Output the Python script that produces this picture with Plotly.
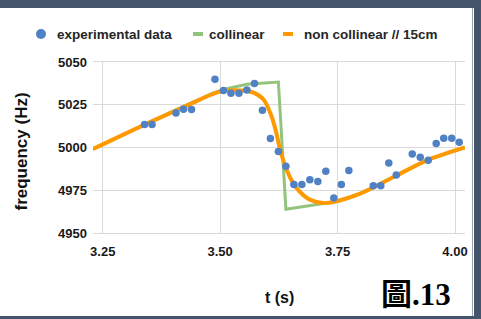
import plotly.graph_objects as go

# ---- data ----
exp_t = [3.339, 3.355, 3.406, 3.422, 3.439, 3.489, 3.507, 3.523, 3.540, 3.557,
         3.573, 3.590, 3.607, 3.624, 3.640, 3.657, 3.674, 3.691, 3.708, 3.725,
         3.742, 3.758, 3.774, 3.826, 3.842, 3.859, 3.875, 3.909, 3.926, 3.943,
         3.960, 3.976, 3.993, 4.009]
exp_f = [5013.4, 5013.4, 5020.2, 5022.3, 5022.2, 5039.9, 5033.3, 5031.7, 5031.7, 5033.6,
         5037.4, 5021.8, 5005.3, 4997.7, 4989.0, 4978.3, 4978.3, 4981.2, 4980.1, 4986.1,
         4970.5, 4978.3, 4986.5, 4977.7, 4977.7, 4990.9, 4983.9, 4996.2, 4994.3, 4992.5,
         5002.3, 5005.4, 5005.4, 5003.0]

col_t = [3.229, 3.344, 3.415, 3.486, 3.507, 3.557, 3.590, 3.624, 3.640, 3.691,
         3.741, 3.798, 3.869, 3.940, 4.021]
col_f = [4999.1, 5014.2, 5023.2, 5032.0, 5033.9, 5037.0, 5037.8, 5038.3, 4963.9, 4965.8,
         4968.1, 4973.0, 4982.7, 4992.5, 5000.0]

non_t = [3.229, 3.344, 3.415, 3.486, 3.507, 3.530, 3.557, 3.571, 3.592, 3.610,
         3.620, 3.628, 3.642, 3.656, 3.670, 3.691, 3.720, 3.741, 3.798, 3.869,
         3.940, 4.021]
non_f = [4999.1, 5014.0, 5022.7, 5031.5, 5033.0, 5033.5, 5033.0, 5032.1, 5028.2, 5017.8,
         5008.1, 4998.4, 4986.7, 4978.9, 4974.0, 4969.5, 4967.5, 4968.1, 4973.0, 4982.7,
         4992.5, 5000.0]

x_ticks = [3.25, 3.50, 3.75, 4.00]
x_ticktext = ["3.25", "3.50", "3.75", "4.00"]
y_ticks = [4950, 4975, 5000, 5025, 5050]

series_names = ["experimental data", "collinear", "non collinear // 15cm"]

BLUE = "#4f81c4"
GREEN = "#93c47d"
ORANGE = "#ff9900"
FRAME = "#44546a"
TXT = "#262626"
FONT = "Liberation Sans, Arial, sans-serif"

W, H = 481, 319
ML, MR, MT, MB = 93, 16, 62, 86
PW, PH = W - ML - MR, H - MT - MB


def px(X):
    return (X - ML) / PW


def py(Y):
    return (H - MB - Y) / PH


fig = go.Figure()
fig.add_trace(go.Scatter(x=col_t, y=col_f, mode="lines", name=series_names[1],
                         line=dict(color=GREEN, width=3), showlegend=False))
fig.add_trace(go.Scatter(x=non_t, y=non_f, mode="lines", name=series_names[2],
                         line=dict(color=ORANGE, width=4, shape="spline", smoothing=0.8),
                         showlegend=False))
fig.add_trace(go.Scatter(x=exp_t, y=exp_f, mode="markers", name=series_names[0],
                         marker=dict(color=BLUE, size=7.5), showlegend=False))

shapes = []
# frame
shapes.append(dict(type="rect", xref="paper", yref="paper", x0=px(-5), x1=px(W + 5),
                   y0=py(8), y1=py(-5), fillcolor=FRAME, line_width=0, layer="above"))
shapes.append(dict(type="rect", xref="paper", yref="paper", x0=px(474), x1=px(W + 5),
                   y0=py(H + 5), y1=py(-5), fillcolor=FRAME, line_width=0, layer="above"))
shapes.append(dict(type="rect", xref="paper", yref="paper", x0=px(-5), x1=px(W + 5),
                   y0=py(H + 5), y1=py(316), fillcolor=FRAME, line_width=0, layer="above"))
shapes.append(dict(type="line", xref="paper", yref="paper", x0=px(472.5), x1=px(472.5),
                   y0=py(316), y1=py(8), line=dict(color="#9aa3ad", width=1), layer="above"))
# legend glyphs
LY = 34
shapes.append(dict(type="circle", xref="paper", yref="paper", x0=px(36), x1=px(46),
                   y0=py(LY + 5), y1=py(LY - 5), fillcolor=BLUE, line_width=0))
shapes.append(dict(type="rect", xref="paper", yref="paper", x0=px(193), x1=px(203),
                   y0=py(LY + 2), y1=py(LY - 2), fillcolor=GREEN, line_width=0))
shapes.append(dict(type="rect", xref="paper", yref="paper", x0=px(283), x1=px(293),
                   y0=py(LY + 2), y1=py(LY - 2), fillcolor=ORANGE, line_width=0))

ann = []
for name, X in zip(series_names, [55, 207, 302]):
    ann.append(dict(text="<b>%s</b>" % name, xref="paper", yref="paper", x=px(X), y=py(LY),
                    xanchor="left", yanchor="middle", showarrow=False,
                    font=dict(family=FONT, size=13.5, color=TXT)))
ann.append(dict(text="<b>t (s)</b>", xref="paper", yref="paper", x=0.5, y=py(297),
                xanchor="center", yanchor="middle", showarrow=False,
                font=dict(family=FONT, size=16, color="#111111")))
ann.append(dict(text="<b>frequency (Hz)</b>", xref="paper", yref="paper", x=px(20.5),
                y=py(152), xanchor="center", yanchor="middle", showarrow=False,
                textangle=-90, font=dict(family=FONT, size=17, color="#111111")))
ann.append(dict(text="<b>圖.13</b>", xref="paper", yref="paper", x=px(416), y=py(294),
                xanchor="center", yanchor="middle", showarrow=False,
                font=dict(family="Liberation Serif, Noto Sans CJK TC, serif", size=31,
                          color="#000000")))

fig.update_layout(
    width=W, height=H,
    margin=dict(l=ML, r=MR, t=MT, b=MB),
    paper_bgcolor="white", plot_bgcolor="white",
    showlegend=False,
    shapes=shapes, annotations=ann,
    xaxis=dict(range=[3.2293, 4.0213], tickvals=x_ticks, ticktext=x_ticktext,
               showgrid=True, gridcolor="#d9d9d9", gridwidth=1, zeroline=False,
               showline=True, mirror=True, linecolor="#d9d9d9", linewidth=1,
               ticks="", ticklabelstandoff=6,
               tickfont=dict(family=FONT, size=13, color="#1a1a1a", weight="bold")),
    yaxis=dict(range=[4950, 5050], tickvals=y_ticks, showgrid=True, gridcolor="#d9d9d9",
               gridwidth=1, zeroline=False, showline=False, ticks="",
               ticklabelstandoff=5,
               tickfont=dict(family=FONT, size=13, color="#1a1a1a", weight="bold")),
)

fig.write_html("out.html",
               config={"displayModeBar": False, "staticPlot": True},
               post_script="document.body.style.margin='0';document.body.style.padding='0';"
                           "document.documentElement.style.overflow='hidden';")
